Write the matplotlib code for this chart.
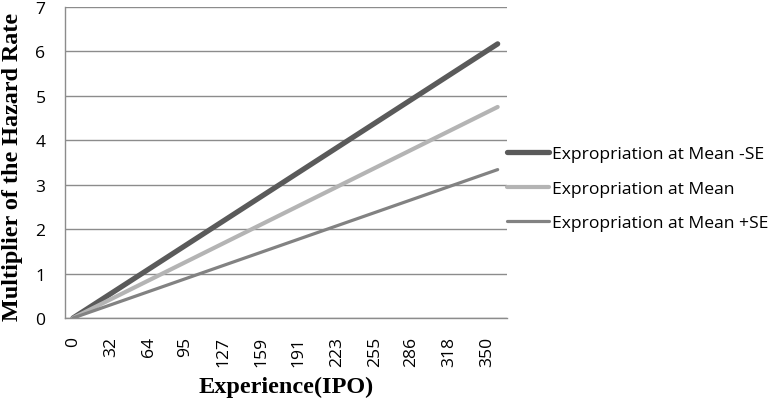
import matplotlib
matplotlib.use("Agg")
import matplotlib.pyplot as plt

experience = [0, 359]
mean_minus_se = [0, 6.17]
mean = [0, 4.75]
mean_plus_se = [0, 3.34]
tick_values = [0, 32, 64, 95, 127, 159, 191, 223, 255, 286, 318, 350]
y_ticks = [0, 1, 2, 3, 4, 5, 6, 7]

fig = plt.figure(figsize=(7.68, 4.02), dpi=100)
ax = fig.add_axes([65/768, 1-319/402, 442/768, 311/402])

ax.plot(experience, mean_minus_se, color="#5a5a5a", lw=3.8, solid_capstyle="round",
        label="Expropriation at Mean -SE", zorder=3)
ax.plot(experience, mean, color="#b4b4b4", lw=3.0, solid_capstyle="round",
        label="Expropriation at Mean", zorder=3)
ax.plot(experience, mean_plus_se, color="#828282", lw=2.3, solid_capstyle="round",
        label="Expropriation at Mean +SE", zorder=3)

ax.set_xlim(-6.8, 366.9)
ax.set_ylim(0, 7)
ax.set_yticks(y_ticks)
ax.set_xticks(tick_values)
ax.set_xticklabels([str(v) for v in tick_values], rotation=90)
ax.yaxis.grid(True, color="#8c8c8c", lw=1.0)
ax.set_axisbelow(True)
for s in ["top", "right"]:
    ax.spines[s].set_visible(False)
for s in ["left", "bottom"]:
    ax.spines[s].set_color("#8c8c8c")
    ax.spines[s].set_linewidth(1.0)
ax.tick_params(axis="both", length=0, labelsize=12.6, colors="black")
ax.tick_params(axis="y", pad=14)
ax.tick_params(axis="x", pad=13)
for lab in ax.get_xticklabels() + ax.get_yticklabels():
    lab.set_fontfamily("Open Sans")

ax.set_xlabel("Experience(IPO)", fontfamily="Liberation Serif", fontweight="bold",
              fontsize=17.5, labelpad=7)
ax.set_ylabel("Multiplier of the Hazard Rate", fontfamily="Liberation Serif",
              fontweight="bold", fontsize=17.4, labelpad=10)
ax.yaxis.set_label_coords(-0.094, 0.488)

leg = ax.legend(loc="center left", bbox_to_anchor=(1.0, 0.416), frameon=False,
                prop={"family": "Open Sans", "size": 12.6}, handlelength=2.4,
                handletextpad=0.15, labelspacing=1.05, borderaxespad=0.0,
                borderpad=0.0)

fig.savefig("out.png", dpi=100)
